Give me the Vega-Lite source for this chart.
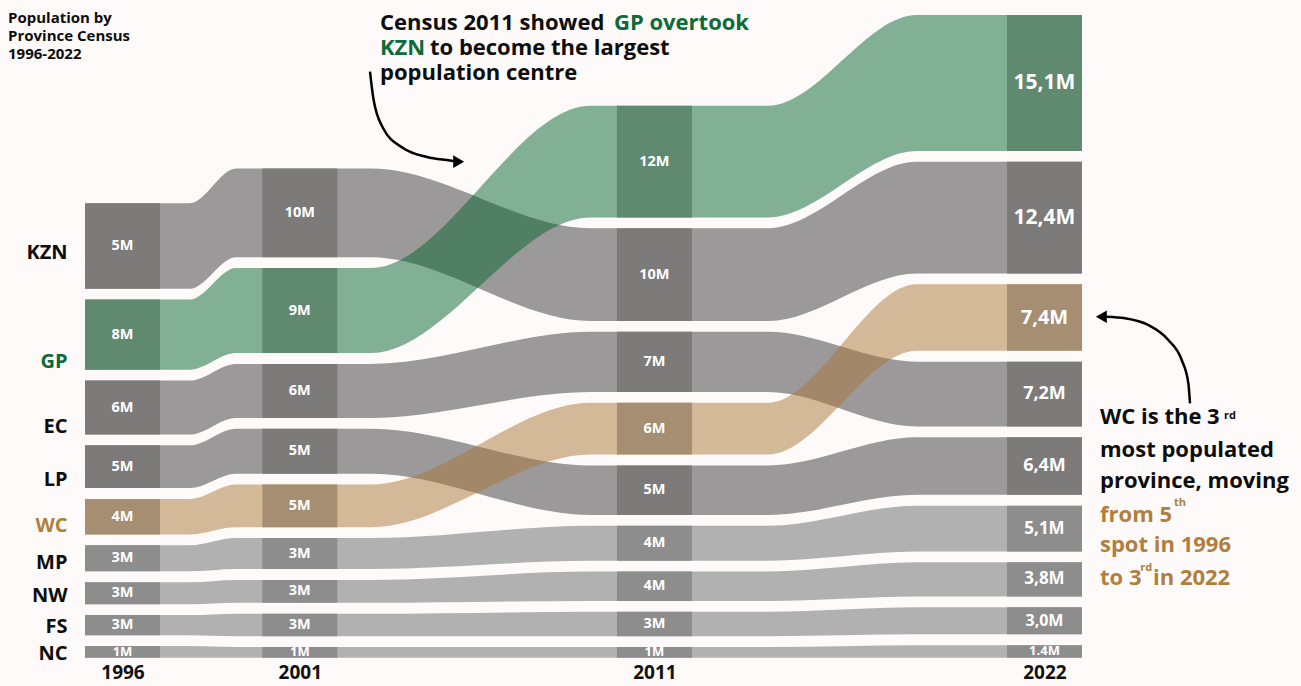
{
  "$schema": "https://vega.github.io/schema/vega-lite/v6.json",
  "width": 1301,
  "height": 660,
  "autosize": {"type": "none"},
  "padding": {"left": 0, "top": 0, "right": 0, "bottom": 26},
  "background": "#fdfaf9",
  "config": {
    "view": {"stroke": null},
    "axisY": {"disable": true},
    "axisX": {"labelFont": "Open Sans", "labelFontWeight": "bold", "labelFontSize": 19, "labelColor": "#111111", "ticks": false, "domain": false, "grid": false, "labelPadding": 3},
    "text": {"font": "Open Sans", "fontWeight": "bold"}
  },
  "datasets": {
    "pop": [
      {"p": "KZN", "year": 1996, "v": 9.5, "lbl": "5M"},
      {"p": "GP", "year": 1996, "v": 7.8, "lbl": "8M"},
      {"p": "EC", "year": 1996, "v": 6.0, "lbl": "6M"},
      {"p": "LP", "year": 1996, "v": 4.75, "lbl": "5M"},
      {"p": "WC", "year": 1996, "v": 3.95, "lbl": "4M"},
      {"p": "MP", "year": 1996, "v": 2.9, "lbl": "3M"},
      {"p": "NW", "year": 1996, "v": 2.45, "lbl": "3M"},
      {"p": "FS", "year": 1996, "v": 2.25, "lbl": "3M"},
      {"p": "NC", "year": 1996, "v": 1.3, "lbl": "1M"},
      {"p": "KZN", "year": 2001, "v": 9.85, "lbl": "10M"},
      {"p": "GP", "year": 2001, "v": 9.45, "lbl": "9M"},
      {"p": "EC", "year": 2001, "v": 6.0, "lbl": "6M"},
      {"p": "LP", "year": 2001, "v": 5.0, "lbl": "5M"},
      {"p": "WC", "year": 2001, "v": 4.75, "lbl": "5M"},
      {"p": "MP", "year": 2001, "v": 3.45, "lbl": "3M"},
      {"p": "NW", "year": 2001, "v": 2.55, "lbl": "3M"},
      {"p": "FS", "year": 2001, "v": 2.5, "lbl": "3M"},
      {"p": "NC", "year": 2001, "v": 1.2, "lbl": "1M"},
      {"p": "GP", "year": 2011, "v": 12.4, "lbl": "12M"},
      {"p": "KZN", "year": 2011, "v": 10.3, "lbl": "10M"},
      {"p": "EC", "year": 2011, "v": 6.7, "lbl": "7M"},
      {"p": "WC", "year": 2011, "v": 5.75, "lbl": "6M"},
      {"p": "LP", "year": 2011, "v": 5.5, "lbl": "5M"},
      {"p": "MP", "year": 2011, "v": 3.9, "lbl": "4M"},
      {"p": "NW", "year": 2011, "v": 3.27, "lbl": "4M"},
      {"p": "FS", "year": 2011, "v": 2.7, "lbl": "3M"},
      {"p": "NC", "year": 2011, "v": 1.2, "lbl": "1M"},
      {"p": "GP", "year": 2022, "v": 15.1, "lbl": "15,1M"},
      {"p": "KZN", "year": 2022, "v": 12.4, "lbl": "12,4M"},
      {"p": "WC", "year": 2022, "v": 7.4, "lbl": "7,4M"},
      {"p": "EC", "year": 2022, "v": 7.2, "lbl": "7,2M"},
      {"p": "LP", "year": 2022, "v": 6.4, "lbl": "6,4M"},
      {"p": "MP", "year": 2022, "v": 5.1, "lbl": "5,1M"},
      {"p": "NW", "year": 2022, "v": 3.8, "lbl": "3,8M"},
      {"p": "FS", "year": 2022, "v": 3.0, "lbl": "3,0M"},
      {"p": "NC", "year": 2022, "v": 1.4, "lbl": "1.4M"}
    ],
    "title": [
      {"t": "Population by", "x": 1992.771, "y": 70.53},
      {"t": "Province Census", "x": 1992.771, "y": 68.5},
      {"t": "1996-2022", "x": 1992.771, "y": 66.47}
    ],
    "noteDark": [
      {"t": "Census 2011 showed", "x": 2003.261, "y": 69.75},
      {"t": "to become the largest", "x": 2004.671, "y": 66.97},
      {"t": "population centre", "x": 2003.261, "y": 64.19},
      {"t": "WC is the 3", "x": 2023.566, "y": 25.97},
      {"t": "most populated", "x": 2023.566, "y": 22.34},
      {"t": "province, moving", "x": 2023.566, "y": 18.83}
    ],
    "noteGreen": [
      {"t": "GP overtook", "x": 2009.86, "y": 69.75},
      {"t": "KZN", "x": 2003.261, "y": 66.97}
    ],
    "noteBrown": [
      {"t": "from 5", "x": 2023.566, "y": 15.12},
      {"t": "spot in 1996", "x": 2023.566, "y": 11.72},
      {"t": "to 3", "x": 2023.566, "y": 8.08},
      {"t": "in 2022", "x": 2025.06, "y": 8.08}
    ],
    "supDark": [
      {"t": "rd", "x": 2027.06, "y": 26.5}
    ],
    "supBrown": [
      {"t": "th", "x": 2025.652, "y": 16.86},
      {"t": "rd", "x": 2024.7, "y": 9.6}
    ],
    "arrows": [
      {"a": 1, "x": 2002.979, "y": 65.12},
      {"a": 1, "x": 2003.072, "y": 62.19},
      {"a": 1, "x": 2003.346, "y": 58.86},
      {"a": 1, "x": 2003.91, "y": 56.64},
      {"a": 1, "x": 2004.587, "y": 55.64},
      {"a": 1, "x": 2005.235, "y": 55.25},
      {"a": 1, "x": 2005.4, "y": 55.15},
      {"a": 2, "x": 2023.75, "y": 37.89},
      {"a": 2, "x": 2024.271, "y": 37.72},
      {"a": 2, "x": 2024.928, "y": 36.97},
      {"a": 2, "x": 2025.492, "y": 35.31},
      {"a": 2, "x": 2025.87, "y": 33.08},
      {"a": 2, "x": 2026.056, "y": 30.53},
      {"a": 2, "x": 2026.104, "y": 28.27}
    ],
    "heads": [
      {"a": 1, "x": 2005.48, "y": 55.12},
      {"a": 2, "x": 2023.603, "y": 37.89}
    ]
  },
  "layer": [
    {
      "data": {"name": "pop"},
      "transform": [
        {"window": [{"op": "row_number", "as": "rk"}], "groupby": ["year"], "sort": [{"field": "v", "order": "ascending"}]},
        {"stack": "v", "groupby": ["year"], "sort": [{"field": "v", "order": "ascending"}], "as": ["s0", "s1"]},
        {"calculate": "datum.s0 + (datum.rk - 1) * 1.2", "as": "y0"},
        {"calculate": "datum.s1 + (datum.rk - 1) * 1.2", "as": "y1"},
        {"calculate": "(datum.y0 + datum.y1) / 2", "as": "ym"}
      ],
      "layer": [
        {
          "transform": [
            {"filter": {"field": "p", "oneOf": ["KZN", "EC", "LP"]}},
            {"calculate": "datum.year == 1996 ? 1994.942 : datum.year == 2001 ? 1999.2 : datum.year == 2011 ? 2009.2 : 2018.4", "as": "xl"},
            {"calculate": "datum.year == 1996 ? 1997.9 : datum.year == 2001 ? 2003.0 : datum.year == 2011 ? 2014.2 : 2023.058", "as": "xr"},
            {"fold": ["xl", "xr"], "as": ["side", "xk"]}
          ],
          "mark": {"type": "area", "orient": "vertical", "interpolate": "monotone", "color": "#393839", "opacity": 0.5},
          "encoding": {
            "x": {"field": "xk", "type": "quantitative", "title": null, "scale": {"domain": [1992.545, 2029.234], "nice": false, "zero": false, "padding": 0}, "axis": {"values": [1996, 2001, 2011, 2022], "format": "d", "title": null}},
            "y": {"field": "y1", "type": "quantitative", "title": null, "stack": null, "scale": {"domain": [-0.25, 73.08], "nice": false, "zero": false, "padding": 0}},
            "y2": {"field": "y0"},
            "detail": {"field": "p"}
          }
        },
        {
          "transform": [
            {"filter": {"field": "p", "oneOf": ["MP", "NW", "FS", "NC"]}},
            {"calculate": "datum.year == 1996 ? 1994.942 : datum.year == 2001 ? 1999.2 : datum.year == 2011 ? 2009.2 : 2018.4", "as": "xl"},
            {"calculate": "datum.year == 1996 ? 1997.9 : datum.year == 2001 ? 2003.0 : datum.year == 2011 ? 2014.2 : 2023.058", "as": "xr"},
            {"fold": ["xl", "xr"], "as": ["side", "xk"]}
          ],
          "mark": {"type": "area", "orient": "vertical", "interpolate": "monotone", "color": "#676869", "opacity": 0.5},
          "encoding": {
            "x": {"field": "xk", "type": "quantitative", "title": null},
            "y": {"field": "y1", "type": "quantitative", "title": null, "stack": null},
            "y2": {"field": "y0"},
            "detail": {"field": "p"}
          }
        },
        {
          "transform": [
            {"filter": {"field": "p", "equal": "GP"}},
            {"calculate": "datum.year == 1996 ? 1994.942 : datum.year == 2001 ? 1999.2 : datum.year == 2011 ? 2009.2 : 2018.4", "as": "xl"},
            {"calculate": "datum.year == 1996 ? 1997.9 : datum.year == 2001 ? 2003.0 : datum.year == 2011 ? 2014.2 : 2023.058", "as": "xr"},
            {"fold": ["xl", "xr"], "as": ["side", "xk"]}
          ],
          "mark": {"type": "area", "orient": "vertical", "interpolate": "monotone", "color": "#056630", "opacity": 0.5},
          "encoding": {
            "x": {"field": "xk", "type": "quantitative", "title": null},
            "y": {"field": "y1", "type": "quantitative", "title": null, "stack": null},
            "y2": {"field": "y0"}
          }
        },
        {
          "transform": [
            {"filter": {"field": "p", "equal": "WC"}},
            {"calculate": "datum.year == 1996 ? 1994.942 : datum.year == 2001 ? 1999.2 : datum.year == 2011 ? 2009.2 : 2018.4", "as": "xl"},
            {"calculate": "datum.year == 1996 ? 1997.9 : datum.year == 2001 ? 2003.0 : datum.year == 2011 ? 2014.2 : 2023.058", "as": "xr"},
            {"fold": ["xl", "xr"], "as": ["side", "xk"]}
          ],
          "mark": {"type": "area", "orient": "vertical", "interpolate": "monotone", "color": "#a97837", "opacity": 0.5},
          "encoding": {
            "x": {"field": "xk", "type": "quantitative", "title": null},
            "y": {"field": "y1", "type": "quantitative", "title": null, "stack": null},
            "y2": {"field": "y0"}
          }
        },
        {
          "mark": {"type": "bar", "width": 75},
          "encoding": {
            "x": {"field": "year", "type": "quantitative", "title": null},
            "y": {"field": "y1", "type": "quantitative", "title": null, "stack": null},
            "y2": {"field": "y0"},
            "color": {"field": "p", "type": "nominal", "legend": null, "scale": {"domain": ["KZN", "GP", "EC", "LP", "WC", "MP", "NW", "FS", "NC"], "range": ["#7d7a7a", "#5f8a6f", "#7d7a7a", "#7d7a7a", "#a58e72", "#8e8d8d", "#8e8d8d", "#8e8d8d", "#8e8d8d"]}}
          }
        },
        {
          "mark": {"type": "text", "color": "#ffffff", "align": "center", "baseline": "middle"},
          "encoding": {
            "x": {"field": "year", "type": "quantitative", "title": null},
            "y": {"field": "ym", "type": "quantitative", "title": null},
            "text": {"field": "lbl"},
            "size": {
              "condition": [
                {"test": "datum.year == 2022 && datum.v >= 10", "value": 21},
                {"test": "datum.year == 2022 && datum.v >= 7.3", "value": 20},
                {"test": "datum.year == 2022 && datum.v >= 6", "value": 18},
                {"test": "datum.year == 2022 && datum.v >= 3.5", "value": 17},
                {"test": "datum.year == 2022 && datum.v >= 2", "value": 16},
                {"test": "datum.p == 'NC'", "value": 13}
              ],
              "value": 14.5
            }
          }
        },
        {
          "transform": [{"filter": "datum.year == 1996 && datum.p != 'KZN' && datum.p != 'NC'"}],
          "mark": {"type": "text", "align": "right", "baseline": "alphabetic", "dx": -55, "dy": -2, "fontSize": 20},
          "encoding": {
            "x": {"field": "year", "type": "quantitative", "title": null},
            "y": {"field": "y0", "type": "quantitative", "title": null},
            "text": {"field": "p"},
            "color": {"condition": [{"test": "datum.p == 'GP'", "value": "#0c6b36"}, {"test": "datum.p == 'WC'", "value": "#b07f3e"}], "value": "#0d0d0d"}
          }
        },
        {
          "transform": [{"filter": "datum.year == 1996 && datum.p == 'NC'"}],
          "mark": {"type": "text", "align": "right", "baseline": "alphabetic", "dx": -55, "dy": 2.5, "fontSize": 20, "color": "#0d0d0d"},
          "encoding": {
            "x": {"field": "year", "type": "quantitative", "title": null},
            "y": {"field": "y0", "type": "quantitative", "title": null},
            "text": {"field": "p"}
          }
        },
        {
          "transform": [{"filter": "datum.year == 1996 && datum.p == 'KZN'"}],
          "mark": {"type": "text", "align": "right", "baseline": "middle", "dx": -55, "dy": 7, "fontSize": 20, "color": "#0d0d0d"},
          "encoding": {
            "x": {"field": "year", "type": "quantitative", "title": null},
            "y": {"field": "ym", "type": "quantitative", "title": null},
            "text": {"field": "p"}
          }
        }
      ]
    },
    {
      "data": {"name": "title"},
      "mark": {"type": "text", "align": "left", "baseline": "alphabetic", "fontSize": 15, "color": "#0d0d0d"},
      "encoding": {
        "x": {"field": "x", "type": "quantitative", "title": null},
        "y": {"field": "y", "type": "quantitative", "title": null},
        "text": {"field": "t"}
      }
    },
    {
      "data": {"name": "noteDark"},
      "mark": {"type": "text", "align": "left", "baseline": "alphabetic", "fontSize": 22, "color": "#0d0d0d"},
      "encoding": {
        "x": {"field": "x", "type": "quantitative", "title": null},
        "y": {"field": "y", "type": "quantitative", "title": null},
        "text": {"field": "t"}
      }
    },
    {
      "data": {"name": "noteGreen"},
      "mark": {"type": "text", "align": "left", "baseline": "alphabetic", "fontSize": 22, "color": "#0c6b36"},
      "encoding": {
        "x": {"field": "x", "type": "quantitative", "title": null},
        "y": {"field": "y", "type": "quantitative", "title": null},
        "text": {"field": "t"}
      }
    },
    {
      "data": {"name": "noteBrown"},
      "mark": {"type": "text", "align": "left", "baseline": "alphabetic", "fontSize": 22, "color": "#b07f3e"},
      "encoding": {
        "x": {"field": "x", "type": "quantitative", "title": null},
        "y": {"field": "y", "type": "quantitative", "title": null},
        "text": {"field": "t"}
      }
    },
    {
      "data": {"name": "supDark"},
      "mark": {"type": "text", "align": "left", "baseline": "alphabetic", "fontSize": 11, "color": "#0d0d0d"},
      "encoding": {
        "x": {"field": "x", "type": "quantitative", "title": null},
        "y": {"field": "y", "type": "quantitative", "title": null},
        "text": {"field": "t"}
      }
    },
    {
      "data": {"name": "supBrown"},
      "mark": {"type": "text", "align": "left", "baseline": "alphabetic", "fontSize": 11, "color": "#b07f3e"},
      "encoding": {
        "x": {"field": "x", "type": "quantitative", "title": null},
        "y": {"field": "y", "type": "quantitative", "title": null},
        "text": {"field": "t"}
      }
    },
    {
      "data": {"name": "arrows"},
      "mark": {"type": "line", "interpolate": "monotone", "color": "#000000", "strokeWidth": 2.5},
      "encoding": {
        "x": {"field": "x", "type": "quantitative", "title": null},
        "y": {"field": "y", "type": "quantitative", "title": null},
        "detail": {"field": "a"}
      }
    },
    {
      "data": {"name": "heads"},
      "mark": {"type": "point", "filled": true, "color": "#000000", "opacity": 1, "size": 160},
      "encoding": {
        "x": {"field": "x", "type": "quantitative", "title": null},
        "y": {"field": "y", "type": "quantitative", "title": null},
        "shape": {"condition": {"test": "datum.a == 1", "value": "triangle-right"}, "value": "triangle-left"}
      }
    }
  ]
}
